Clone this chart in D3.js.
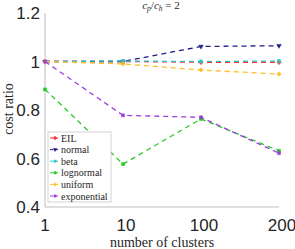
<!DOCTYPE html>
<html><head><meta charset="utf-8">
<script src="https://cdn.jsdelivr.net/npm/d3@7"></script>
<style>body{margin:0;background:#fff}svg{display:block}</style>
</head><body>
<svg id="c" width="295" height="249"></svg>
<script>
const categories = ["1", "10", "100", "200"];
const yTicks = [0.4, 0.6, 0.8, 1, 1.2];
const seriesNames = ["EIL", "normal", "beta", "lognormal", "uniform", "exponential"];
const EIL = [1.0, 1.0, 0.997, 0.997];
const normal = [1.0, 1.0, 1.062, 1.065];
const beta = [1.0, 1.002, 1.0, 1.002];
const lognormal = [0.885, 0.577, 0.763, 0.632];
const uniform = [1.0, 0.99, 0.965, 0.948];
const exponential = [1.0, 0.778, 0.77, 0.622];
const colors = ["#ff2a2a", "#1c1c8a", "#2ec4c4", "#22cc22", "#ffbf26", "#9b3fe0"];
const symbols = [d3.symbolCross, d3.symbolTriangle, d3.symbolSquare, d3.symbolSquare, d3.symbolCross, d3.symbolSquare];
const allSeries = [EIL, normal, beta, lognormal, uniform, exponential];
const SERIF = "'Liberation Serif', 'Times New Roman', serif";
const SANS = "'Liberation Sans', Arial, sans-serif";

const svg = d3.select("#c");
const x = d3.scalePoint().domain(categories).range([45, 279]);
const y = d3.scaleLinear().domain([0.4, 1.2]).range([207, 13]);

svg.append("line").attr("x1",45).attr("x2",45).attr("y1",y(1.2)).attr("y2",y(0.4)).attr("stroke","#bdbdbd").attr("stroke-width",1);
svg.append("line").attr("x1",45).attr("x2",279).attr("y1",y(0.4)).attr("y2",y(0.4)).attr("stroke","#bdbdbd").attr("stroke-width",1);

svg.selectAll(".yt").data(yTicks).enter().append("text")
  .attr("x", 40).attr("y", d => y(d) + 6)
  .attr("text-anchor","end").style("font-family",SANS)
  .attr("font-size", 17).attr("fill","#262626").text(d => d3.format("")(d));
svg.selectAll(".xt").data(categories).enter().append("text")
  .attr("x", d => x(d) + (d === "1" ? 0 : 3)).attr("y", 231)
  .attr("text-anchor","middle").style("font-family",SANS)
  .attr("font-size", 17).attr("fill","#262626").text(d => d);

svg.append("text").attr("transform","translate(13,109) rotate(-90)")
  .attr("text-anchor","middle").style("font-family",SERIF)
  .attr("font-size",14).attr("fill","#262626").text("cost ratio");
svg.append("text").attr("x",162).attr("y",247)
  .attr("text-anchor","middle").style("font-family",SERIF)
  .attr("font-size",14).attr("fill","#262626").text("number of clusters");

const t = svg.append("text").attr("x",161).attr("y",9).attr("text-anchor","middle")
  .style("font-family",SERIF).attr("font-size",11).attr("fill","#262626");
t.append("tspan").attr("font-style","italic").text("c");
t.append("tspan").attr("font-size",7.5).attr("dy",2).attr("font-style","italic").text("p");
t.append("tspan").attr("dy",-2).text("/");
t.append("tspan").attr("font-style","italic").text("c");
t.append("tspan").attr("font-size",7.5).attr("dy",2).attr("font-style","italic").text("h");
t.append("tspan").attr("dy",-2).text(" = 2");

const line = d3.line().x((d,i) => x(categories[i])).y(d => y(d));
allSeries.forEach((s, k) => {
  svg.append("path").datum(s).attr("d", line).attr("fill","none")
    .attr("stroke", colors[k]).attr("stroke-width", 1.3).attr("stroke-dasharray","5,4");
  svg.selectAll(".m"+k).data(s).enter().append("path")
    .attr("transform", (d,i) => `translate(${x(categories[i])},${y(d)})` + (k===1 ? " rotate(180)" : ""))
    .attr("d", d3.symbol().type(symbols[k]).size(9))
    .attr("fill", colors[k]).attr("stroke", colors[k]).attr("stroke-width", 0.5);
});

const lg = svg.append("g");
lg.append("rect").attr("x",48).attr("y",132).attr("width",63).attr("height",70)
  .attr("fill","#fff").attr("stroke","#c8c8c8").attr("stroke-width",0.8);
seriesNames.forEach((n, k) => {
  const yy = 138 + k * 11.6;
  lg.append("line").attr("x1",50).attr("x2",60).attr("y1",yy).attr("y2",yy)
    .attr("stroke",colors[k]).attr("stroke-width",1).attr("stroke-dasharray","3,2");
  lg.append("path").attr("transform",`translate(55,${yy})` + (k===1 ? " rotate(180)" : ""))
    .attr("d", d3.symbol().type(symbols[k]).size(8)).attr("fill",colors[k]);
  lg.append("text").attr("x",61).attr("y",yy+3.5)
    .style("font-family",SERIF).attr("font-size",10)
    .attr("fill","#262626").text(n);
});
</script>
</body></html>
